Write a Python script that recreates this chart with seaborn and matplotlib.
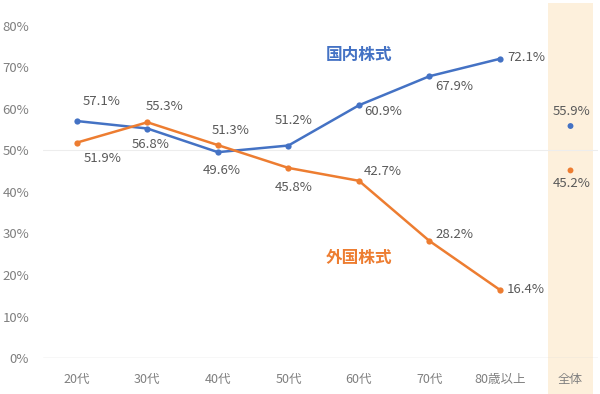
import numpy as np
import pandas as pd
import matplotlib.pyplot as plt
import seaborn as sns
from matplotlib.patches import Rectangle

# ---- data ----
categories = ['20代', '30代', '40代', '50代', '60代', '70代', '80歳以上', '全体']
age_groups = categories[:-1]
domestic = [57.1, 55.3, 49.6, 51.2, 60.9, 67.9, 72.1]
foreign = [51.9, 56.8, 51.3, 45.8, 42.7, 28.2, 16.4]
domestic_total = 55.9
foreign_total = 45.2
y_ticks = [0, 10, 20, 30, 40, 50, 60, 70, 80]

# label offsets (pixels) per point, domestic then foreign
off_dom = [(25, 20), (17, 22), (4, -18), (5, 25), (24, -6), (25, -10), (26, 1)]
off_for = [(26, -16), (3, -22), (13, 15), (5, -20), (24, 9), (25, 6), (26, 0)]

blue = '#4472C4'
orange = '#ED7D31'
gray = '#595959'

sns.set_theme(style='white')
plt.rcParams['font.family'] = ['Noto Sans CJK JP', 'DejaVu Sans']

fig = plt.figure(figsize=(6, 3.94), dpi=100)
ax = fig.add_axes([43 / 600, (394 - 358) / 394, (598 - 43) / 600, (358 - 15) / 394])

px = 4.15  # pixels per percent
ax.set_xlim(-0.48, 7.39)
ax.set_ylim(0, (358 - 15) / px)

# highlight band for 全体
band_lo = (358 - 394) / px
band_hi = (358 - 3) / px
ax.add_patch(Rectangle((6.68, band_lo), 0.64, band_hi - band_lo, facecolor='#FDF0DC',
                       edgecolor='none', clip_on=False, zorder=0))

ax.axhline(50, color='#EDEDED', lw=0.8, zorder=1)
ax.axhline(0, color='#D9D9D9', lw=1.0, zorder=1)

df = pd.DataFrame({
    'x': list(range(7)) * 2,
    'value': domestic + foreign,
    'series': ['国内株式'] * 7 + ['外国株式'] * 7,
})
sns.lineplot(data=df, x='x', y='value', hue='series', palette=[blue, orange],
             marker='o', markersize=4.5, markeredgewidth=0, linewidth=1.8,
             legend=False, ax=ax, zorder=3)

tot = pd.DataFrame({'x': [7, 7], 'value': [domestic_total, foreign_total],
                    'series': ['国内株式', '外国株式']})
sns.scatterplot(data=tot, x='x', y='value', hue='series', palette=[blue, orange],
                s=18, linewidth=0, legend=False, ax=ax, zorder=3)

fs = 9.5
for i, v in enumerate(domestic):
    ax.annotate(f'{v:.1f}%', (i, v), xytext=off_dom[i], textcoords='offset pixels',
                ha='center', va='center', fontsize=fs, color=gray)
for i, v in enumerate(foreign):
    ax.annotate(f'{v:.1f}%', (i, v), xytext=off_for[i], textcoords='offset pixels',
                ha='center', va='center', fontsize=fs, color=gray)
ax.annotate(f'{domestic_total:.1f}%', (7, domestic_total), xytext=(1, 15),
            textcoords='offset pixels', ha='center', va='center', fontsize=fs, color=gray)
ax.annotate(f'{foreign_total:.1f}%', (7, foreign_total), xytext=(1, -13),
            textcoords='offset pixels', ha='center', va='center', fontsize=fs, color=gray)

ax.text(4.0, (358 - 55) / px, '国内株式', color=blue, fontsize=12, fontweight='bold',
        ha='center', va='center')
ax.text(4.0, (358 - 258) / px, '外国株式', color=orange, fontsize=12, fontweight='bold',
        ha='center', va='center')

ax.set_xticks(range(len(categories)))
ax.set_xticklabels(categories)
ax.set_yticks(y_ticks)
ax.set_yticklabels([f'{t}%' for t in y_ticks])
ax.tick_params(axis='x', length=0, pad=11, labelsize=9, labelcolor='#7F7F7F')
ax.tick_params(axis='y', length=0, pad=10, labelsize=9.5, labelcolor='#7F7F7F')
ax.set_xlabel('')
ax.set_ylabel('')
for s in ax.spines.values():
    s.set_visible(False)
ax.patch.set_alpha(0)

fig.savefig('out.png', dpi=100)
